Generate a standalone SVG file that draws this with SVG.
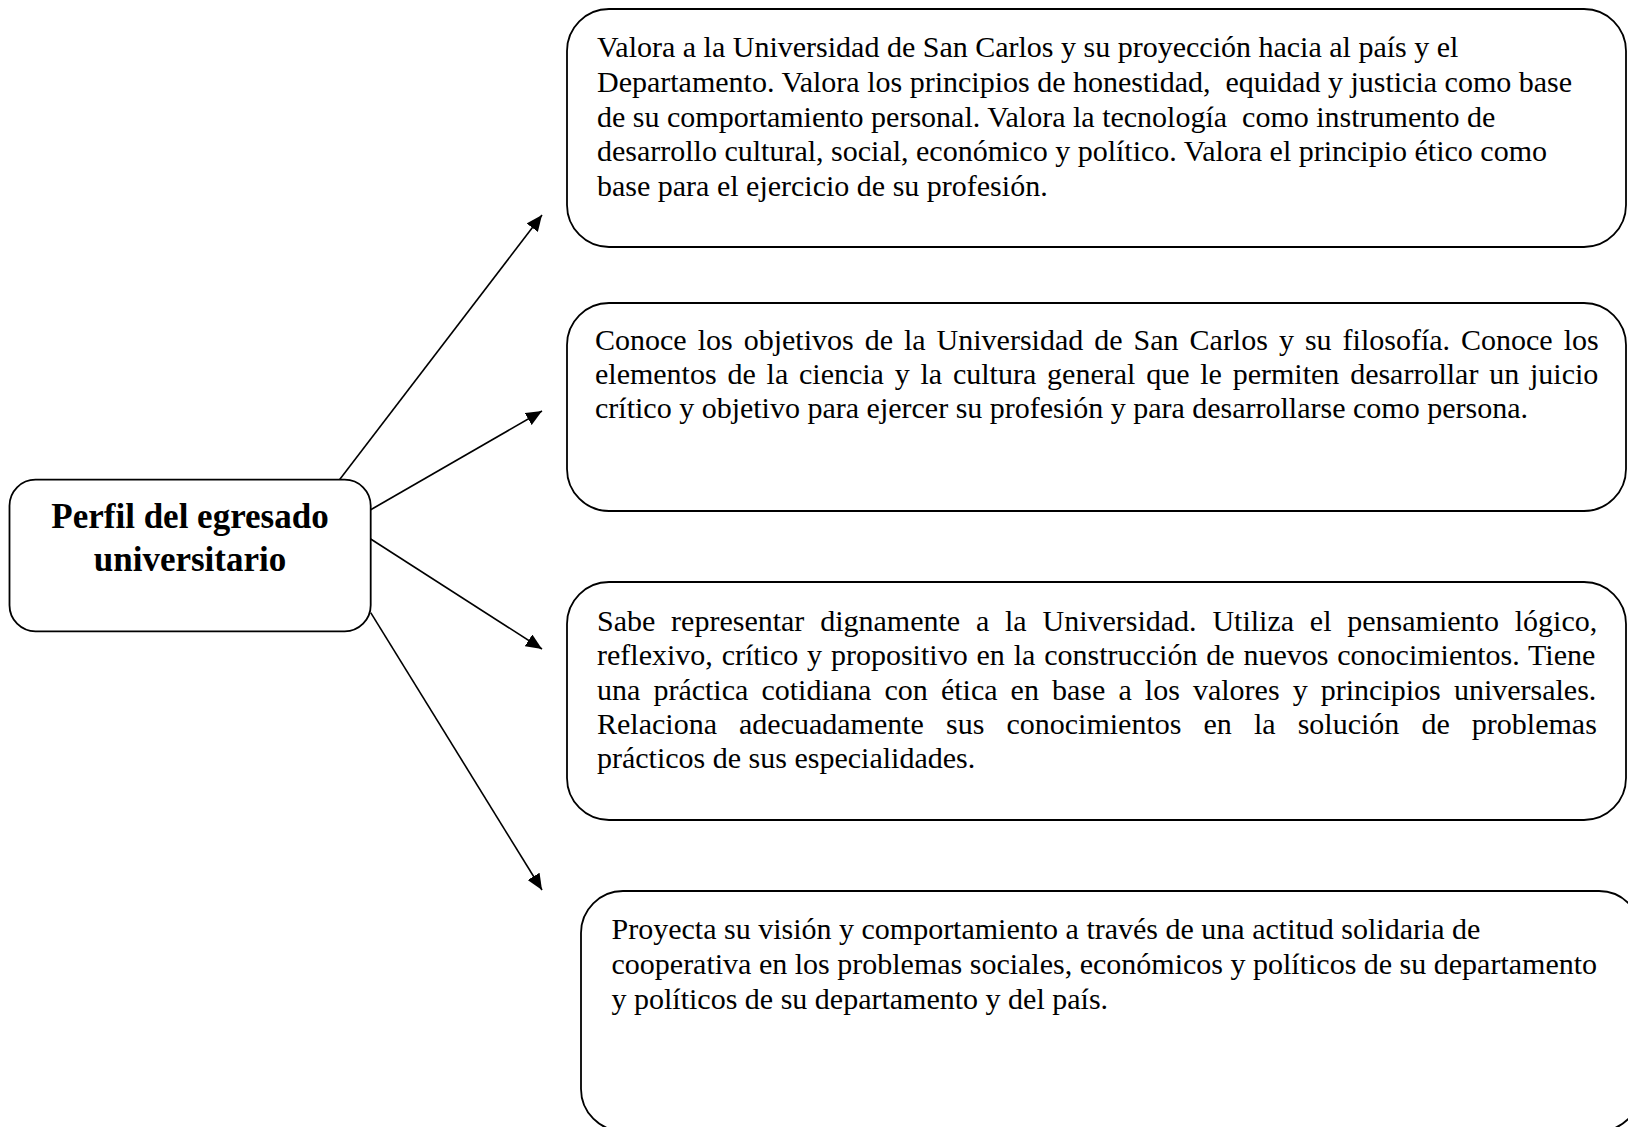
<svg xmlns="http://www.w3.org/2000/svg" width="1628" height="1127" viewBox="0 0 1628 1127">
<style>
.box{fill:#fff;stroke:#000;stroke-width:1.8}
.t{font-family:"Liberation Serif","Times New Roman",serif;font-size:30px;fill:#000}
.h{font-family:"Liberation Serif","Times New Roman",serif;font-size:35px;font-weight:bold;fill:#000;text-anchor:middle}
.c{stroke:#000;stroke-width:1.6;fill:none}
</style>
<defs>
<marker id="ah" markerUnits="userSpaceOnUse" markerWidth="18" markerHeight="14" refX="16" refY="7" orient="auto">
<path d="M0,0 L16,7 L0,14 Z" fill="#000"/>
</marker>
</defs>
<rect width="1628" height="1127" fill="#fff"/>
<g id="connectors">
<line class="c" x1="339.5" y1="479.7" x2="542" y2="215" marker-end="url(#ah)"/>
<line class="c" x1="370.7" y1="509.8" x2="542" y2="411" marker-end="url(#ah)"/>
<line class="c" x1="370.7" y1="539" x2="542" y2="649" marker-end="url(#ah)"/>
<line class="c" x1="370.7" y1="612.6" x2="542" y2="890" marker-end="url(#ah)"/>
</g>
<g id="center">
<rect class="box" x="9.5" y="479.7" width="361.2" height="151.6" rx="26" ry="26"/>
<text class="h" x="190" y="528">Perfil del egresado</text>
<text class="h" x="190" y="571">universitario</text>
</g>
<g id="node1">
<rect class="box" x="567" y="9" width="1059" height="238" rx="42" ry="42"/>
<text class="t" x="597" y="57">Valora a la Universidad de San Carlos y su proyección hacia al país y el</text>
<text class="t" x="597" y="92" xml:space="preserve">Departamento. Valora los principios de honestidad,  equidad y justicia como base</text>
<text class="t" x="597" y="127" xml:space="preserve">de su comportamiento personal. Valora la tecnología  como instrumento de</text>
<text class="t" x="597" y="161">desarrollo cultural, social, económico y político. Valora el principio ético como</text>
<text class="t" x="597" y="196">base para el ejercicio de su profesión.</text>
</g>
<g id="node2">
<rect class="box" x="567" y="303" width="1059" height="208" rx="42" ry="42"/>
<text class="t" x="595" y="350" word-spacing="3.5">Conoce los objetivos de la Universidad de San Carlos y su filosofía. Conoce los</text>
<text class="t" x="595" y="384" word-spacing="3.3">elementos de la ciencia y la cultura general que le permiten desarrollar un juicio</text>
<text class="t" x="595" y="418">crítico y objetivo para ejercer su profesión y para desarrollarse como persona.</text>
</g>
<g id="node3">
<rect class="box" x="567" y="582" width="1059" height="238" rx="42" ry="42"/>
<text class="t" x="597" y="631" word-spacing="8.3">Sabe representar dignamente a la Universidad. Utiliza el pensamiento lógico,</text>
<text class="t" x="597" y="665" word-spacing="1.35">reflexivo, crítico y propositivo en la construcción de nuevos conocimientos. Tiene</text>
<text class="t" x="597" y="700" word-spacing="5.6">una práctica cotidiana con ética en base a los valores y principios universales.</text>
<text class="t" x="597" y="734" word-spacing="14.6">Relaciona adecuadamente sus conocimientos en la solución de problemas</text>
<text class="t" x="597" y="768">prácticos de sus especialidades.</text>
</g>
<g id="node4">
<rect class="box" x="581" y="891" width="1060" height="240" rx="42" ry="42"/>
<text class="t" x="611.5" y="938.5">Proyecta su visión y comportamiento a través de una actitud solidaria de</text>
<text class="t" x="611.5" y="974">cooperativa en los problemas sociales, económicos y políticos de su departamento</text>
<text class="t" x="611.5" y="1009">y políticos de su departamento y del país.</text>
</g>
</svg>
